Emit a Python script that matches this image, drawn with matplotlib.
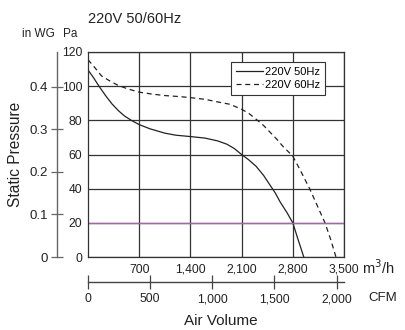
import matplotlib
matplotlib.use("Agg")
import matplotlib.pyplot as plt
from matplotlib.ticker import FuncFormatter

plt.rcParams['font.family'] = ['Liberation Sans', 'DejaVu Sans']

# 220V 50Hz curve (air volume m3/h, static pressure Pa)
flow_50 = [0, 75, 150, 240, 330, 420, 500, 600, 700, 850, 1050, 1200, 1400, 1600,
           1770, 1900, 2000, 2100, 2200, 2300, 2400, 2490, 2560, 2630, 2720, 2800, 2870, 2950]
pres_50 = [109.5, 105, 100, 94.5, 89.5, 85.5, 82.5, 79.8, 77.5, 75, 72.5, 71.3, 70.5, 69.6,
           68, 66, 63.5, 60, 56.8, 53, 47.8, 42, 37.5, 32, 26, 20, 10.5, 0]

# 220V 60Hz curve
flow_60 = [0, 90, 185, 300, 410, 550, 700, 870, 1050, 1250, 1400, 1600, 1770, 1940,
           2100, 2200, 2300, 2400, 2490, 2580, 2660, 2730, 2800, 2900, 3030, 3130, 3240, 3320, 3390]
pres_60 = [115.5, 111, 106, 103, 100.5, 98.3, 96.5, 95.4, 94.5, 93.9, 93.3, 92.3, 90.8, 89.4,
           86.5, 84, 80.6, 77, 73, 69, 65, 62, 59, 51, 40, 30.5, 20, 10, 0]

series_labels = ["220V 50Hz", "220V 60Hz"]
ref_line = 20  # Pa

m3h_ticks = [700, 1400, 2100, 2800, 3500]
pa_ticks = [0, 20, 40, 60, 80, 100, 120]
inwg_ticks = [0, 0.1, 0.2, 0.3, 0.4]
cfm_ticks = [0, 500, 1000, 1500, 2000]

PA_PER_INWG = 249.09
M3H_PER_CFM = 1.699

fig = plt.figure(figsize=(4.06, 3.30), dpi=100)
ax = fig.add_axes([88 / 406, 73 / 330, 256 / 406, 205 / 330])

ax.plot(flow_50, pres_50, color="#222222", lw=0.9, label=series_labels[0])
ax.plot(flow_60, pres_60, color="#222222", lw=0.9, linestyle=(0, (4, 3)), label=series_labels[1])
ax.axhline(ref_line, color="#a466a8", lw=1.0)

ax.set_xlim(0, 3500)
ax.set_ylim(0, 120)
ax.set_xticks(m3h_ticks)
ax.set_yticks(pa_ticks)
ax.xaxis.set_major_formatter(FuncFormatter(lambda v, p: f"{int(v):,}"))
ax.grid(True, color="#333333", lw=0.9)
ax.tick_params(length=0, labelsize=8.7, colors="#222222")
ax.tick_params(axis="x", pad=5)
ax.tick_params(axis="y", pad=4)
for s in ax.spines.values():
    s.set_color("#333333")
    s.set_linewidth(0.9)

leg = ax.legend(loc="upper right", bbox_to_anchor=(0.926, 0.951), borderaxespad=0,
                fontsize=8, fancybox=False, framealpha=1, edgecolor="#333333",
                handlelength=2.4, handletextpad=0.2, labelspacing=0.25,
                borderpad=0.45)
leg.get_frame().set_linewidth(0.8)

# in WG axis on the left
sec_y = ax.secondary_yaxis(-0.121, functions=(lambda pa: pa / PA_PER_INWG,
                                                lambda w: w * PA_PER_INWG))
sec_y.set_yticks(inwg_ticks)
sec_y.yaxis.set_major_formatter(FuncFormatter(lambda v, p: "0" if v == 0 else f"{v:.1f}"))
sec_y.tick_params(direction="inout", length=9, width=0.9, labelsize=9.5,
                  color="#666666", labelcolor="#222222", pad=2)
sec_y.spines["left"].set_color("#666666")
sec_y.spines["left"].set_linewidth(1.0)

# CFM axis below
sec_x = ax.secondary_xaxis(-0.122, functions=(lambda q: q / M3H_PER_CFM,
                                                lambda c: c * M3H_PER_CFM))
sec_x.set_xticks(cfm_ticks)
sec_x.xaxis.set_major_formatter(FuncFormatter(lambda v, p: f"{int(round(v)):,}"))
sec_x.tick_params(direction="inout", length=10, width=0.9, labelsize=8.7,
                  color="#444444", labelcolor="#222222", pad=3)
sec_x.spines["bottom"].set_color("#444444")
sec_x.spines["bottom"].set_linewidth(1.0)

ax.text(1.07, -0.054, "m$^3$/h", transform=ax.transAxes, ha="left", va="center",
        fontsize=10.5, color="#222222")
ax.text(1.094, -0.2, "CFM", transform=ax.transAxes, ha="left", va="center",
        fontsize=9.5, color="#222222")
ax.text(0.52, -0.312, "Air Volume", transform=ax.transAxes, ha="center", va="center",
        fontsize=11, color="#222222")

fig.text(16 / 406, 1 - 154 / 330, "Static Pressure", rotation=90, ha="center", va="center",
         fontsize=11.2, color="#222222")
fig.text(88 / 406, 1 - 19 / 330, "220V 50/60Hz", ha="left", va="center",
         fontsize=10.5, color="#222222")
fig.text(22 / 406, 1 - 34 / 330, "in WG", ha="left", va="center",
         fontsize=8.5, color="#222222")
fig.text(63 / 406, 1 - 34 / 330, "Pa", ha="left", va="center",
         fontsize=8.5, color="#222222")

fig.savefig("out.png", dpi=100)
